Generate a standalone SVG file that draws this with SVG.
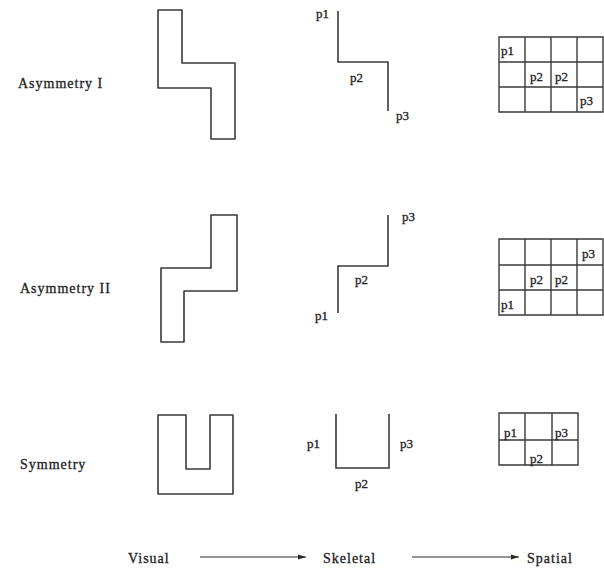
<svg xmlns="http://www.w3.org/2000/svg" width="604" height="568" viewBox="0 0 604 568">
<style>
  .shape{fill:none;stroke:#3a3a3a;stroke-width:1.6;stroke-linejoin:round}
  .skel{fill:none;stroke:#3a3a3a;stroke-width:1.6}
  .grid{fill:none;stroke:#3a3a3a;stroke-width:1.4}
  .lbl{font-family:"Liberation Serif",serif;font-size:14px;letter-spacing:1px;fill:#222;stroke:#222;stroke-width:0.3}
  .p{font-family:"Liberation Serif",serif;font-size:13px;fill:#222;stroke:#222;stroke-width:0.3}
  .arrow{stroke:#2a2a2a;stroke-width:1.1;fill:none}
</style>
<defs>
  <marker id="ah" markerWidth="8" markerHeight="6" refX="8" refY="3" orient="auto" markerUnits="userSpaceOnUse">
    <path d="M0,0.5 L8,3 L0,5.5 Z" fill="#2a2a2a"/>
  </marker>
</defs>
<rect width="604" height="568" fill="#ffffff"/>

<g id="label-asym1"><text class="lbl" x="18" y="88">Asymmetry I</text></g>
<g id="label-asym2"><text class="lbl" x="20" y="293">Asymmetry II</text></g>
<g id="label-sym"><text class="lbl" x="20" y="469">Symmetry</text></g>

<g id="visual-asym1"><path class="shape" d="M158,10 H182 V63 H235 V139 H211 V88 H158 Z"/></g>
<g id="visual-asym2"><path class="shape" d="M211,215 H237 V291 H184 V342 H161 V268 H211 Z"/></g>
<g id="visual-sym"><path class="shape" d="M158,415 H186 V469 H210 V415 H233 V494 H158 Z"/></g>

<g id="skeletal-asym1">
  <path class="skel" d="M338,11 V62 H388 V111"/>
  <text class="p" x="316" y="18">p1</text>
  <text class="p" x="350" y="82">p2</text>
  <text class="p" x="396" y="120">p3</text>
</g>
<g id="skeletal-asym2">
  <path class="skel" d="M388,215 V266 H338 V313"/>
  <text class="p" x="402" y="221">p3</text>
  <text class="p" x="355" y="284">p2</text>
  <text class="p" x="315" y="320">p1</text>
</g>
<g id="skeletal-sym">
  <path class="skel" d="M336,414 V468 H389 V414"/>
  <text class="p" x="307" y="448">p1</text>
  <text class="p" x="400" y="448">p3</text>
  <text class="p" x="355" y="488">p2</text>
</g>

<g id="spatial-asym1">
  <path class="grid" d="M499,37 H603 V112 H499 Z M499,62 H603 M499,87 H603 M525,37 V112 M551,37 V112 M577,37 V112"/>
  <text class="p" x="501" y="55">p1</text>
  <text class="p" x="530" y="81">p2</text>
  <text class="p" x="555" y="81">p2</text>
  <text class="p" x="580" y="105">p3</text>
</g>
<g id="spatial-asym2">
  <path class="grid" d="M499,239 H603 V315 H499 Z M499,265 H603 M499,290 H603 M525,239 V315 M551,239 V315 M577,239 V315"/>
  <text class="p" x="582" y="258">p3</text>
  <text class="p" x="530" y="284">p2</text>
  <text class="p" x="555" y="284">p2</text>
  <text class="p" x="501" y="309">p1</text>
</g>
<g id="spatial-sym">
  <path class="grid" d="M499,413 H578 V465 H499 Z M499,440 H578 M525,413 V465 M552,413 V465"/>
  <text class="p" x="504" y="437">p1</text>
  <text class="p" x="555" y="437">p3</text>
  <text class="p" x="530" y="463">p2</text>
</g>

<g id="label-visual"><text class="lbl" x="128" y="563">Visual</text></g>
<g id="label-skeletal"><text class="lbl" x="323" y="563">Skeletal</text></g>
<g id="label-spatial"><text class="lbl" x="527" y="563">Spatial</text></g>

<g id="connectors">
  <line class="arrow" x1="200" y1="557" x2="306" y2="557" marker-end="url(#ah)"/>
  <line class="arrow" x1="412" y1="557" x2="519" y2="557" marker-end="url(#ah)"/>
</g>
</svg>
